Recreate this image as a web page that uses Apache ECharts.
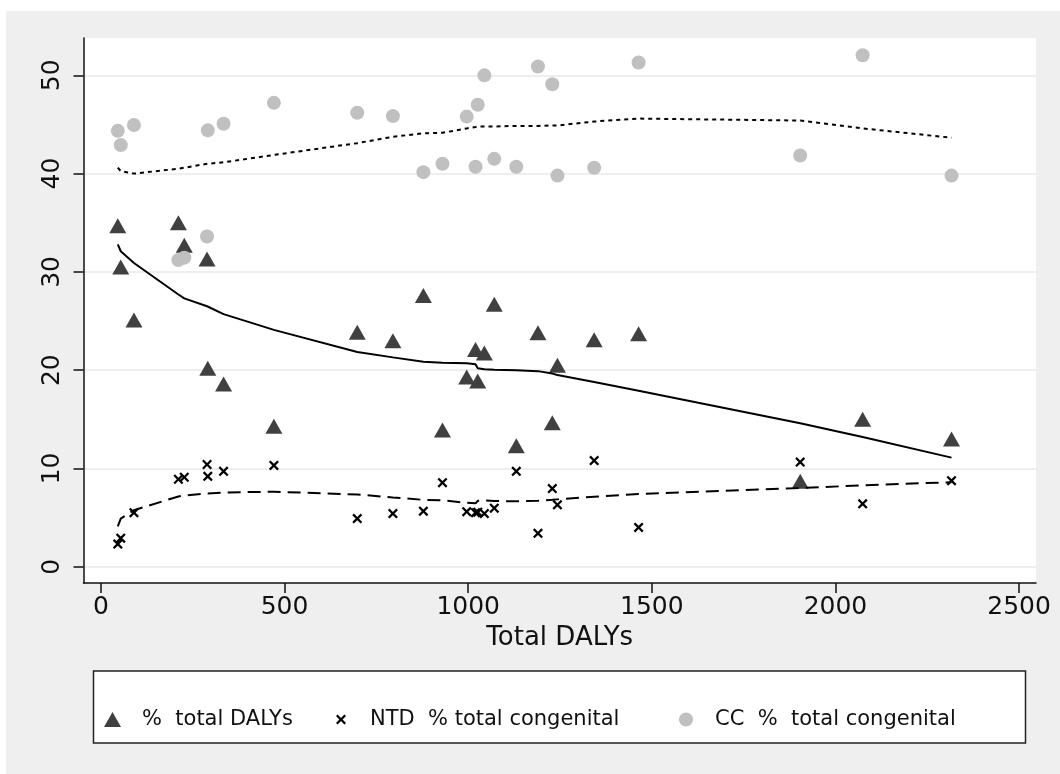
<!DOCTYPE html>
<html>
<head>
<meta charset="utf-8">
<script src="https://cdn.jsdelivr.net/npm/echarts@6/dist/echarts.min.js"></script>
<style>
  html, body { margin: 0; padding: 0; background: #fff; }
  #chart { width: 1060px; height: 774px; }
</style>
</head>
<body>
<div id="chart"></div>
<script>
// x: Total DALYs per country
var totalDalys = [46, 54, 90, 211, 227, 289, 291, 334, 471, 698, 795, 878, 930, 996, 1020, 1026, 1044, 1071, 1131, 1190, 1229, 1243, 1343, 1464, 1904, 2074, 2316];
// % total DALYs (triangles)
var pctDalys = [34.7, 30.5, 25.1, 35.0, 32.7, 31.3, 20.2, 18.6, 14.3, 23.85, 23.0, 27.6, 13.9, 19.3, 22.1, 18.9, 21.75, 26.7, 12.3, 23.8, 14.65, 20.5, 23.1, 23.7, 8.7, 15.0, 13.0];
// NTD % total congenital (x marks)
var ntdPct = [2.3, 2.9, 5.5, 8.9, 9.1, 10.4, 9.2, 9.7, 10.3, 4.9, 5.4, 5.65, 8.55, 5.6, 5.5, 5.55, 5.4, 5.95, 9.7, 3.4, 7.95, 6.3, 10.8, 4.0, 10.65, 6.4, 8.75];
// CC % total congenital (circles)
var ccPct = [44.35, 42.9, 44.95, 31.2, 31.45, 33.6, 44.4, 45.07, 47.2, 46.2, 45.85, 40.15, 41.0, 45.8, 40.7, 47.0, 50.0, 41.5, 40.7, 50.9, 49.1, 39.8, 40.6, 51.3, 41.85, 52.05, 39.8];
// smoothed fits
var fitDalys = [32.8, 32.1, 30.9, 27.7, 27.3, 26.5, 26.4, 25.7, 24.1, 21.85, 21.3, 20.85, 20.75, 20.7, 20.6, 20.2, 20.1, 20.05, 20.0, 19.9, 19.65, 19.5, 18.8, 17.9, 14.6, 13.2, 11.1];
var fitNtd = [4.1, 4.9, 5.75, 7.15, 7.25, 7.45, 7.45, 7.55, 7.63, 7.35, 7.05, 6.8, 6.75, 6.5, 6.45, 6.7, 6.75, 6.68, 6.65, 6.7, 6.8, 6.85, 7.12, 7.4, 8.0, 8.28, 8.6];
var fitCc = [40.6, 40.25, 40.0, 40.5, 40.6, 41.0, 41.0, 41.15, 41.9, 43.1, 43.75, 44.1, 44.15, 44.6, 44.75, 44.8, 44.8, 44.8, 44.85, 44.85, 44.9, 44.9, 45.3, 45.6, 45.4, 44.6, 43.65];

var xTicks = [0, 500, 1000, 1500, 2000, 2500];
var yTicks = [0, 10, 20, 30, 40, 50];

var names = ['%  total DALYs', 'NTD  % total congenital', 'CC  %  total congenital'];

var xMark = 'path://M0,1.6L1.6,0L5,3.4L8.4,0L10,1.6L6.6,5L10,8.4L8.4,10L5,6.6L1.6,10L0,8.4L3.4,5Z';
var font = 'DejaVu Sans';

function pairs(ys) {
	return totalDalys.map(function(x, i) { return [x, ys[i]]; });
}

var myChart = echarts.init(document.getElementById('chart'));

var option = {
	animation: false,
	backgroundColor: '#fff',
	textStyle: { fontFamily: font },
	graphic: [
		{ type: 'rect', z: -10, shape: { x: 6, y: 11, width: 1060, height: 770 }, style: { fill: '#efefef' } },
		{ type: 'rect', z: 1, shape: { x: 93.5, y: 671, width: 932, height: 72 }, style: { fill: '#fff', stroke: '#222', lineWidth: 1.5 } }
	],
	grid: {
		left: 83.5, right: 24, top: 38, bottom: 191,
		show: true, backgroundColor: '#fff', borderWidth: 0
	},
	legend: [
		{
			data: [names[0]], left: 104, top: 709, padding: 0, z: 5,
			icon: 'triangle', itemWidth: 17, itemHeight: 15,
			textStyle: { fontFamily: font, fontSize: 21, color: '#111', padding: [0, 0, 0, 16] }
		},
		{
			data: [names[1]], left: 336, top: 709, padding: 0, z: 5,
			icon: xMark, itemWidth: 10, itemHeight: 10,
			textStyle: { fontFamily: font, fontSize: 21, color: '#111', padding: [0, 0, 0, 19] }
		},
		{
			data: [names[2]], left: 679, top: 709, padding: 0, z: 5,
			icon: 'circle', itemWidth: 14, itemHeight: 14,
			textStyle: { fontFamily: font, fontSize: 21, color: '#111', padding: [0, 0, 0, 17] }
		}
	],
	xAxis: {
		type: 'value', min: -47.4, max: 2546,
		name: 'Total DALYs', nameLocation: 'middle', nameGap: 41,
		nameTextStyle: { fontFamily: font, fontSize: 26, color: '#111' },
		axisLine: { show: true, onZero: false, lineStyle: { color: '#111', width: 1.5 } },
		axisTick: { show: true, length: 10, customValues: xTicks, lineStyle: { color: '#111', width: 1.5 } },
		axisLabel: {
			customValues: xTicks, margin: 12, fontFamily: font, fontSize: 25, color: '#111',
			formatter: function(v) { return String(v); }
		},
		splitLine: { show: false }
	},
	yAxis: {
		type: 'value', min: -1.66, max: 53.8,
		axisLine: { show: true, onZero: false, lineStyle: { color: '#111', width: 1.5 } },
		axisTick: { show: true, length: 10, customValues: yTicks, lineStyle: { color: '#111', width: 1.5 } },
		axisLabel: {
			customValues: yTicks, rotate: 90, margin: 19, fontFamily: font, fontSize: 25, color: '#111',
			formatter: function(v) { return String(v); }
		},
		splitLine: { show: true, lineStyle: { color: '#e8e8e8', width: 1.5 } }
	},
	series: [
		{
			name: names[0], type: 'scatter', symbol: 'triangle', symbolSize: [17, 15],
			itemStyle: { color: '#404040', opacity: 1 }, data: pairs(pctDalys)
		},
		{
			name: names[1], type: 'scatter', symbol: xMark, symbolSize: 10,
			itemStyle: { color: '#000', opacity: 1 }, data: pairs(ntdPct)
		},
		{
			name: names[2], type: 'scatter', symbol: 'circle', symbolSize: 14,
			itemStyle: { color: '#c0c0c0', opacity: 1 }, data: pairs(ccPct)
		},
		{
			type: 'line', showSymbol: false, silent: true,
			lineStyle: { color: '#000', width: 2 }, data: pairs(fitDalys)
		},
		{
			type: 'line', showSymbol: false, silent: true,
			lineStyle: { color: '#000', width: 2, type: [13, 7] }, data: pairs(fitNtd)
		},
		{
			type: 'line', showSymbol: false, silent: true,
			lineStyle: { color: '#000', width: 2, type: [4, 4] }, data: pairs(fitCc)
		}
	]
};

myChart.setOption(option);
</script>
</body>
</html>
